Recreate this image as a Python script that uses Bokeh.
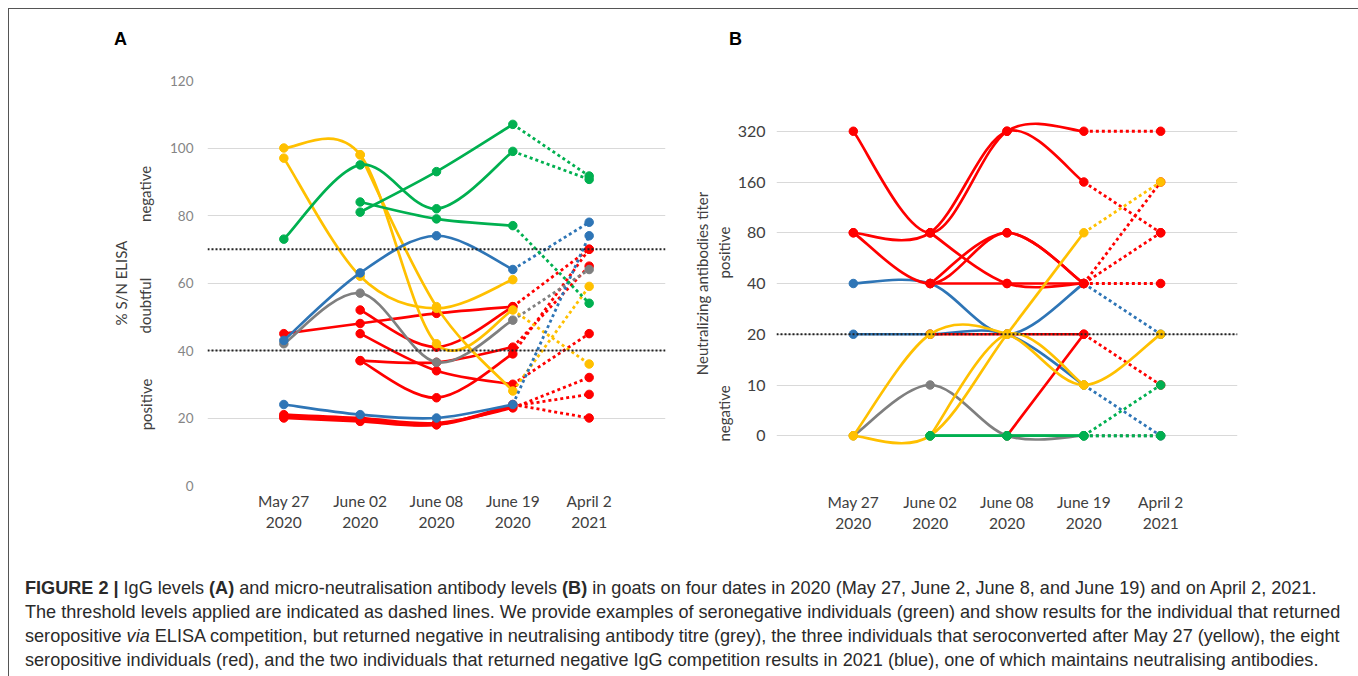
from math import pi
from bokeh.plotting import figure
from bokeh.models import Range1d, FixedTicker, Span, Div, ColumnDataSource, LinearAxis
from bokeh.layouts import row, column
from bokeh.embed import file_html
from bokeh.resources import INLINE

# ---------------- data ----------------
dates = ["May 27\n2020", "June 02\n2020", "June 08\n2020", "June 19\n2020", "April 2\n2021"]
panel_letters = ["A", "B"]

elisa_ticks = [0, 20, 40, 60, 80, 100, 120]
elisa_thresholds = [40, 70]
elisa_zones = ["positive", "doubtful", "negative"]
elisa_zone_centres = [24.0, 53.3, 86.4]
# values per individual: May27, Jun02, Jun08, Jun19, Apr2 (Apr2 joined with a dotted line)
elisa_red = [
    [45, 48, 51, 53, 70],
    [None, 52, 41, 53, None],
    [None, 37, 36.5, 41, 65],
    [None, 37, 26, 39, 70],
    [None, 45, 34, 30, 45],
    [21, 20, 18.5, 23, 32],
    [20.5, 19.5, 18, 23.5, 27],
    [20, 19, 18, 24, 20],
]
elisa_grey = [[42, 57, 36.5, 49, 64]]
elisa_yellow = [
    [None, 98, 53, 28, 59],
    [100, 98, 42, 52, 36],
    [97, 62, 52.5, 61, None],
]
elisa_blue = [
    [43, 63, 74, 64, 78],
    [24, 21, 20, 24, 74],
]
elisa_green = [
    [73, 95, 82, 99, 90.7],
    [None, 81, 93, 107, 91.7],
    [None, 84, 79, 77, 54],
]

titer_levels = [0, 10, 20, 40, 80, 160, 320]
titer_threshold = 20
titer_zones = ["negative", "positive"]
titer_zone_centres = [0.44, 3.61]
titer_blue = [
    [40, 40, 20, 40, 20],
    [20, 20, 20, 10, 0],
]
titer_red = [
    [320, 80, 320, 320, 320],
    [80, 80, 320, 160, 80],
    [80, 40, 80, 40, 160],
    [None, 40, 80, 40, 80],
    [None, 80, 40, 40, 40],
    [None, 40, 40, 40, None],
    [None, 20, 20, 20, 10],
    [None, None, 0, 20, None],
]
titer_grey = [[0, 10, 0, 0, 0]]
titer_yellow = [
    [0, 20, 20, 10, 20],
    [0, 0, 20, 80, 160],
    [None, 0, 20, 10, None],
]
titer_yellow_solid_to_april = [True, False, False]
titer_green = [
    [None, 0, 0, 0, 10],
    [None, 0, 0, 0, 0],
    [None, 0, 0, 0, None],
]

COL = {"green": "#00B050", "blue": "#2E75B6", "grey": "#7F7F7F",
       "yellow": "#FFC000", "red": "#FF0000"}
FONT = "Lato"

# ---------------- helpers ----------------
def smooth_segments(xs, ys):
    n = len(xs)
    out = []
    for i in range(n - 1):
        xp, yp = (xs[i - 1], ys[i - 1]) if i > 0 else (xs[i], ys[i])
        xn, yn = (xs[i + 2], ys[i + 2]) if i + 2 < n else (xs[i + 1], ys[i + 1])
        cx0 = xs[i] + (xs[i + 1] - xp) / 6.0
        cy0 = ys[i] + (ys[i + 1] - yp) / 6.0
        cx1 = xs[i + 1] - (xn - xs[i]) / 6.0
        cy1 = ys[i + 1] - (yn - ys[i]) / 6.0
        out.append((xs[i], ys[i], xs[i + 1], ys[i + 1], cx0, cy0, cx1, cy1))
    return out


def draw_group(p, series, color, to_y, solid_to_april=None):
    bez = dict(x0=[], y0=[], x1=[], y1=[], cx0=[], cy0=[], cx1=[], cy1=[])
    dots = dict(x0=[], y0=[], x1=[], y1=[])
    pts = dict(x=[], y=[])
    for k, vals in enumerate(series):
        full = bool(solid_to_april[k]) if solid_to_april else False
        last = 4 if full else 3
        run = [(i, to_y(v)) for i, v in enumerate(vals[:last + 1]) if v is not None]
        xs = [r[0] for r in run]
        ys = [r[1] for r in run]
        for s in smooth_segments(xs, ys):
            for key, val in zip(["x0", "y0", "x1", "y1", "cx0", "cy0", "cx1", "cy1"], s):
                bez[key].append(val)
        if not full and vals[3] is not None and vals[4] is not None:
            dots["x0"].append(3); dots["y0"].append(to_y(vals[3]))
            dots["x1"].append(4); dots["y1"].append(to_y(vals[4]))
        for i, v in enumerate(vals):
            if v is not None:
                pts["x"].append(i); pts["y"].append(to_y(v))
    p.segment(x0="x0", y0="y0", x1="x1", y1="y1", source=ColumnDataSource(dots),
              line_color=color, line_width=2.8, line_dash="3 3")
    p.bezier(x0="x0", y0="y0", x1="x1", y1="y1", cx0="cx0", cy0="cy0",
             cx1="cx1", cy1="cy1", source=ColumnDataSource(bez),
             line_color=color, line_width=2.7)
    p.scatter(x="x", y="y", source=ColumnDataSource(pts), size=8.5,
              fill_color=color, line_color=color, marker="circle")


def base_fig(y0, y1, yticks, fw, fh, bl, bt, br, bb, tick_color, tick_size, standoff, xstandoff):
    p = figure(frame_width=fw, frame_height=fh, x_range=Range1d(-1, 5), y_range=Range1d(y0, y1),
               output_backend="svg", toolbar_location=None,
               min_border_left=bl, min_border_top=bt, min_border_right=br, min_border_bottom=bb)
    p.outline_line_color = None
    p.background_fill_color = "white"
    p.border_fill_color = "white"
    p.xgrid.grid_line_color = None
    p.ygrid.grid_line_color = "#D9D9D9"
    p.ygrid.grid_line_width = 1
    for ax in (p.xaxis[0], p.yaxis[0]):
        ax.axis_line_color = None
        ax.major_tick_line_color = None
        ax.minor_tick_line_color = None
        ax.major_tick_out = 0
        ax.major_tick_in = 0
        ax.minor_tick_out = 0
        ax.minor_tick_in = 0
        ax.major_label_text_font = FONT
    p.xaxis.ticker = FixedTicker(ticks=list(range(len(dates))))
    p.xaxis.major_label_overrides = {i: d for i, d in enumerate(dates)}
    p.xaxis.major_label_text_font_size = "15.5px"
    p.xaxis.major_label_text_color = "#404040"
    p.xaxis.major_label_text_line_height = 1.2
    p.xaxis.major_label_standoff = xstandoff
    p.yaxis.ticker = FixedTicker(ticks=yticks)
    p.yaxis.major_label_text_font_size = tick_size
    p.yaxis.major_label_text_color = tick_color
    p.yaxis.major_label_standoff = standoff
    return p


def zone_axis(p, centres, names, title, standoff, title_standoff):
    ax = LinearAxis(ticker=FixedTicker(ticks=centres),
                    major_label_overrides={c: n for c, n in zip(centres, names)},
                    major_label_orientation="vertical",
                    major_label_text_font=FONT, major_label_text_font_size="15px",
                    major_label_text_color="#404040", major_label_standoff=standoff,
                    axis_line_color=None, major_tick_line_color=None,
                    minor_tick_line_color=None, major_tick_out=0, major_tick_in=0,
                    minor_tick_out=0, minor_tick_in=0,
                    axis_label=title, axis_label_text_font=FONT,
                    axis_label_text_font_size="15px", axis_label_text_font_style="normal",
                    axis_label_text_color="#404040", axis_label_standoff=title_standoff)
    p.add_layout(ax, "left")


# ---------------- panel A ----------------
pA = base_fig(0, 120, elisa_ticks, 458, 405, 198, 32, 14, 62, "#858585", "13.5px", 14, 6)
for t in elisa_thresholds:
    pA.add_layout(Span(location=t, dimension="width", line_color="#222222",
                       line_width=2, line_dash="2 2"))
ident = lambda v: v
draw_group(pA, elisa_red, COL["red"], ident)
draw_group(pA, elisa_grey, COL["grey"], ident)
draw_group(pA, elisa_yellow, COL["yellow"], ident)
draw_group(pA, elisa_blue, COL["blue"], ident)
draw_group(pA, elisa_green, COL["green"], ident)
zone_axis(pA, elisa_zone_centres, elisa_zones, "% S/N ELISA", 13, 4)

# ---------------- panel B ----------------
tidx = {v: i for i, v in enumerate(titer_levels)}
to_idx = lambda v: tidx[v]
ticksB = list(range(-1, len(titer_levels) + 1))
pB = base_fig(-1, len(titer_levels), ticksB, 461, 406, 97, 32, 116, 59, "#404040", "16px", 11, 6)
pB.yaxis.major_label_overrides = {i: (str(titer_levels[i]) if 0 <= i < len(titer_levels) else "")
                                  for i in ticksB}
pB.add_layout(Span(location=tidx[titer_threshold], dimension="width", line_color="#222222",
                   line_width=2, line_dash="2 2"))
draw_group(pB, titer_blue, COL["blue"], to_idx)
draw_group(pB, titer_red, COL["red"], to_idx)
draw_group(pB, titer_grey, COL["grey"], to_idx)
draw_group(pB, titer_yellow, COL["yellow"], to_idx, titer_yellow_solid_to_april)
draw_group(pB, titer_green, COL["green"], to_idx)
zone_axis(pB, titer_zone_centres, titer_zones, "Neutralizing antibodies titer", 1, 2)

# ---------------- panel letters ----------------
letter_style = ("position:absolute;top:16px;font-family:'Liberation Sans',Arial,sans-serif;"
                "font-weight:bold;font-size:18px;line-height:18px;color:#000;")
header = Div(
    text=('<div style="position:relative;height:38px;">'
          f'<span style="{letter_style}left:100px;">{panel_letters[0]}</span>'
          f'<span style="{letter_style}left:715px;">{panel_letters[1]}</span></div>'),
    width=1344, height=29)

# ---------------- caption ----------------
cap_lines = [
    "<b>FIGURE 2 |</b> IgG levels <b>(A)</b> and micro-neutralisation antibody levels <b>(B)</b> in goats on four dates in 2020 (May 27, June 2, June 8, and June 19) and on April 2, 2021.",
    "The threshold levels applied are indicated as dashed lines. We provide examples of seronegative individuals (green) and show results for the individual that returned",
    "seropositive <i>via</i> ELISA competition, but returned negative in neutralising antibody titre (grey), the three individuals that seroconverted after May 27 (yellow), the eight",
    "seropositive individuals (red), and the two individuals that returned negative IgG competition results in 2021 (blue), one of which maintains neutralising antibodies.",
]
cap = Div(text="<br>".join(cap_lines), width=1344, height=121,
          styles={"font-family": "'Liberation Sans', Arial, sans-serif",
                  "font-size": "18.1px", "line-height": "24px", "color": "#2a2a2a",
                  "white-space": "nowrap", "padding-left": "11px", "padding-top": "24px",
                  "box-sizing": "border-box", "overflow": "hidden"})

layout = column(header, row(pA, pB), cap,
                styles={"border": "1px solid #555555", "margin": "8px 0 0 8px"})
open("out.html", "w").write(file_html(layout, INLINE))
